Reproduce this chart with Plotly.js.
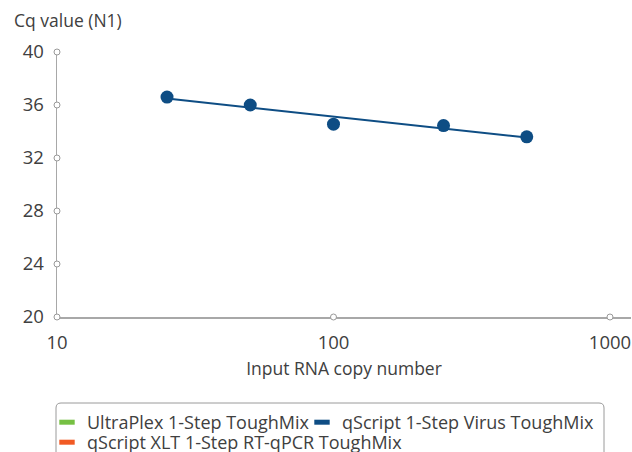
<!DOCTYPE html>
<html>
<head>
<meta charset="utf-8">
<script src="https://cdn.plot.ly/plotly-3.0.1.min.js"></script>
<style>
html,body{margin:0;padding:0;background:#fff;}
#chart{width:632px;height:452px;}
</style>
</head>
<body>
<div id="chart"></div>
<script>
// Data
const copies = [25, 50, 100, 250, 500];
const cqValues = [36.6, 36.0, 34.55, 34.45, 33.6];
const seriesNames = ["UltraPlex 1-Step ToughMix", "qScript 1-Step Virus ToughMix", "qScript XLT 1-Step RT-qPCR ToughMix"];
const seriesColors = ["#76c043", "#0e4d84", "#f15a24"];
const xTicks = [10, 100, 1000];
const yTicks = [20, 24, 28, 32, 36, 40];

// Log-linear least-squares trend line from the data
const lx = copies.map(v => Math.log10(v));
const n = lx.length;
const mx = lx.reduce((a, b) => a + b, 0) / n;
const my = cqValues.reduce((a, b) => a + b, 0) / n;
let sxy = 0, sxx = 0;
for (let i = 0; i < n; i++) { sxy += (lx[i] - mx) * (cqValues[i] - my); sxx += (lx[i] - mx) ** 2; }
const slope = sxy / sxx, icpt = my - slope * mx;
const trendX = [copies[0], copies[n - 1]];
const trendY = trendX.map(v => icpt + slope * Math.log10(v));

const font = "'Open Sans', 'Noto Sans', sans-serif";
const textColor = "#404040";
const axisGrey = "#a8a8a8";

// plot-area geometry (pixels) for paper conversion of decorations
const W = 632, H = 452, mL = 57, mR = 1, mT = 52, mB = 135;
const pw = W - mL - mR, ph = H - mT - mB;
const px = v => (v - mL) / pw;
const py = v => (H - mB - v) / ph;

// legend entry placement: [legend id, left px, top px]
const legendSlots = [["legend", 47, 404], ["legend2", 302, 404], ["legend3", 47, 424]];

const traces = [];
seriesNames.forEach((nm, i) => {
  traces.push({
    type: "scatter", mode: "markers", name: nm, legend: legendSlots[i][0],
    x: [null], y: [null],
    marker: { symbol: "line-ew", size: 11, color: seriesColors[i], line: { color: seriesColors[i], width: 5 } },
    hoverinfo: "skip"
  });
});
traces.push({
  type: "scatter", mode: "lines", x: trendX, y: trendY, showlegend: false,
  line: { color: seriesColors[1], width: 2 }, hoverinfo: "skip"
});
traces.push({
  type: "scatter", mode: "markers", x: copies, y: cqValues, showlegend: false,
  marker: { color: seriesColors[1], size: 13 }
});
traces.push({
  type: "scatter", mode: "markers", showlegend: false, cliponaxis: false, hoverinfo: "skip",
  x: xTicks.concat(yTicks.slice(1).map(() => xTicks[0])),
  y: xTicks.map(() => yTicks[0]).concat(yTicks.slice(1)),
  marker: { symbol: "circle", size: 6, color: "#fff", line: { color: "#999", width: 1 } }
});

// rounded legend frame (open at the bottom, runs past the page edge)
const bx0 = px(56), bx1 = px(604), byt = py(403), byb = py(470);
const rx = 5 / pw, ry = 5 / ph;
const framePath = `M${bx0},${byb} L${bx0},${byt - ry} Q${bx0},${byt} ${bx0 + rx},${byt} ` +
  `L${bx1 - rx},${byt} Q${bx1},${byt} ${bx1},${byt - ry} L${bx1},${byb}`;

const layout = {
  width: W, height: H,
  margin: { l: mL, r: mR, t: mT, b: mB, autoexpand: false },
  paper_bgcolor: "#fff", plot_bgcolor: "#fff",
  font: { family: font, size: 17, color: textColor },
  showlegend: true,
  xaxis: {
    type: "log", range: [1, 3.076], tickvals: xTicks, ticktext: xTicks.map(String),
    showgrid: false, zeroline: false, showline: true, linecolor: axisGrey, linewidth: 1.5,
    ticks: "", layer: "below traces", ticklabelstandoff: 8,
    tickfont: { size: 18.5, color: textColor },
    title: { text: "Input RNA copy number", font: { size: 17.5, color: textColor }, standoff: 10 }
  },
  yaxis: {
    range: [20, 40], tickvals: yTicks, ticktext: yTicks.map(String),
    showgrid: false, zeroline: false, showline: true, linecolor: axisGrey, linewidth: 1.5,
    ticks: "", layer: "below traces", ticklabelstandoff: 8,
    tickfont: { size: 18.5, color: textColor }
  },
  annotations: [{
    text: "Cq value (N1)", xref: "paper", yref: "paper",
    x: px(12), y: py(20), xanchor: "left", yanchor: "middle",
    showarrow: false, font: { size: 17.5, color: textColor }
  }],
  shapes: [{
    type: "path", xref: "paper", yref: "paper", path: framePath,
    line: { color: "#9a9a9a", width: 1 }, layer: "below"
  }]
};
legendSlots.forEach(([id, lx0, ly0]) => {
  layout[id] = {
    orientation: "h", x: px(lx0), y: py(ly0), xanchor: "left", yanchor: "top",
    borderwidth: 0, bgcolor: "rgba(0,0,0,0)",
    font: { size: 18, color: textColor }, itemwidth: 30
  };
});

Plotly.newPlot("chart", traces, layout, { displayModeBar: false, staticPlot: true });
</script>
</body>
</html>
